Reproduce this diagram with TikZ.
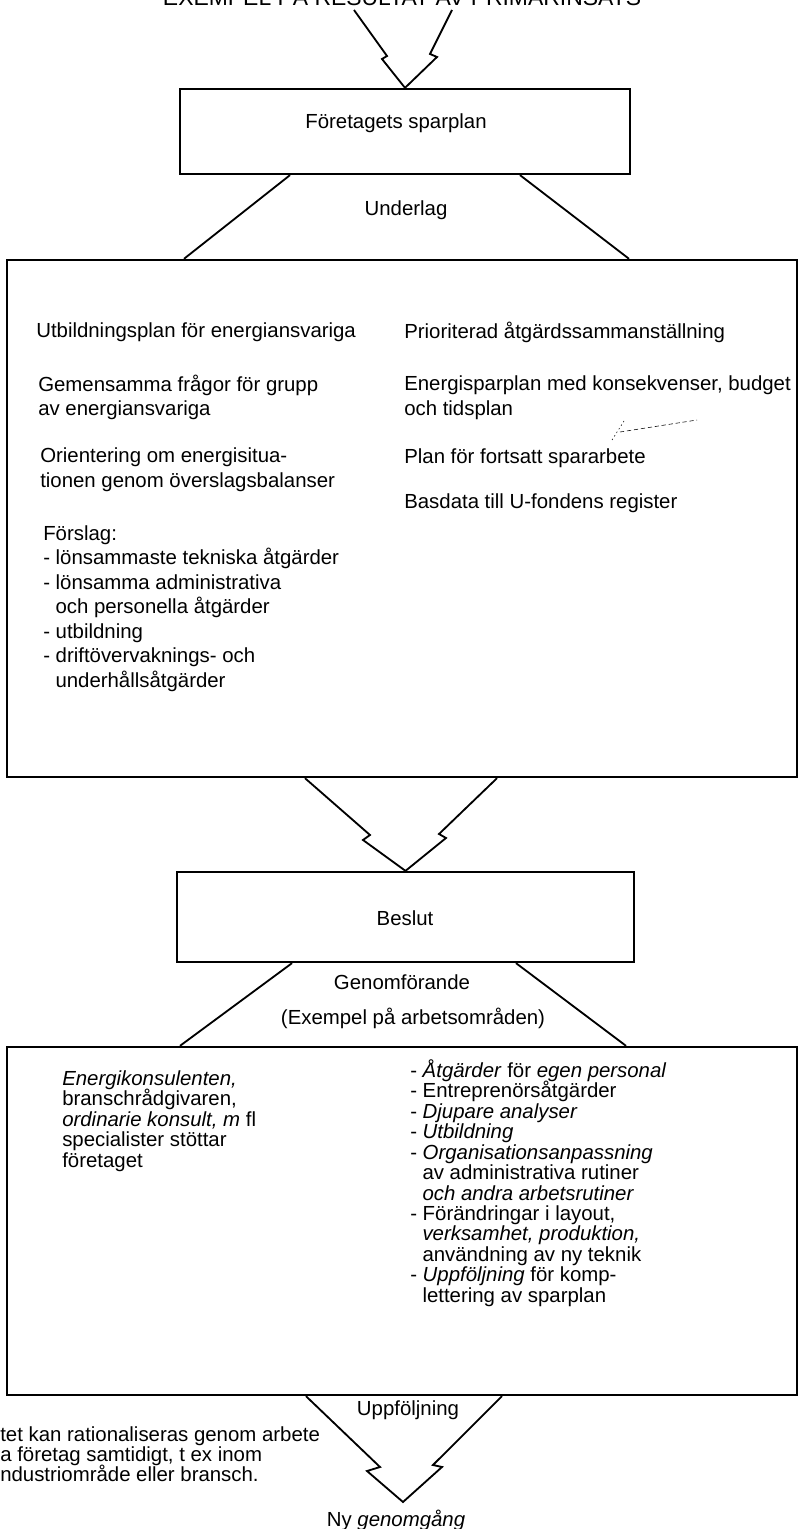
\documentclass[tikz,border=0pt]{standalone}
\usepackage{fontspec}
\setmainfont{Liberation Sans}
\usetikzlibrary{calc}

\newcommand\contind{\hspace*{0.6em}}
\newcommand\tightlines{\lineskiplimit-20pt\relax}

\begin{document}
\begin{tikzpicture}[x=0.025cm,y=-0.025cm,
    box/.style={rectangle,draw,line width=1.6pt,inner sep=0pt},
    conn/.style={line width=1.3pt,line join=miter},
    txt/.style={font=\fontsize{14.5}{17.4}\selectfont,inner sep=0pt,align=left,anchor=west},
    wtxt/.style={font=\fontsize{14.5}{14.55}\selectfont\tightlines,inner sep=0pt,align=left,anchor=west},
    lbl/.style={font=\fontsize{14.5}{17.4}\selectfont,inner sep=0pt}]
    \useasboundingbox (0,0) rectangle (799,1529);
    % heading, cut by the page edge
    \node[font=\fontsize{16.3}{18}\selectfont,anchor=base,inner sep=0pt] (title) at (402,6) {EXEMPEL PÅ RESULTAT AV PRIMÄRINSATS};
    \coordinate (inL) at (354,10);
    \coordinate (inR) at (452,10);
    \node[box,minimum width=11.25cm,minimum height=2.125cm] (plan) at (405,131.5) {};
    \node[lbl] (plantxt) at (396,123) {Företagets sparplan};
    \node[lbl] (underlag) at (406,210) {Underlag};
    \node[box,minimum width=19.75cm,minimum height=12.925cm] (basis) at (402,518.5) {};
    % left column
    \node[txt] (utb) at (36,332) {Utbildningsplan för energiansvariga};
    \node[txt] (gem) at (38,397.5) {Gemensamma frågor för grupp\\av energiansvariga};
    \node[txt] (ori) at (40,469.5) {Orientering om energisitua-\\tionen genom överslagsbalanser};
    \node[txt] (forslag) at (43,608.5) {Förslag:\\- lönsammaste tekniska åtgärder\\- lönsamma administrativa\\\contind och personella åtgärder\\- utbildning\\- driftövervaknings- och\\\contind underhållsåtgärder};
    % right column
    \node[txt] (prio) at (404,332) {Prioriterad åtgärdssammanställning};
    \node[txt] (spar) at (404,397.5) {Energisparplan med konsekvenser, budget\\och tidsplan};
    \node[txt] (fortsatt) at (404,458) {Plan för fortsatt spararbete};
    \node[txt] (basdata) at (404,503) {Basdata till U-fondens register};
    \draw[thin,dash pattern=on 1pt off 2pt] (612,440) -- (624,421);
    \draw[thin,dash pattern=on 3pt off 2pt] (620,432) -- (697,420);
    % decision
    \node[box,minimum width=11.425cm,minimum height=2.25cm] (beslut) at (405.5,917) {};
    \node[lbl] (besluttxt) at (405,918) {Beslut};
    \node[lbl] (genomf) at (402,982) {Genomförande};
    \node[lbl] (exempel) at (413,1018) {(Exempel på arbetsområden)};
    \node[box,minimum width=19.75cm,minimum height=8.7cm] (work) at (402,1221) {};
    \node[wtxt] (stod) at (62,1121) {\textit{Energikonsulenten,}\\branschrådgivaren,\\\textit{ordinarie konsult, m} fl\\specialister stöttar\\företaget};
    \node[wtxt] (omraden) at (410,1183) {- \textit{Åtgärder} för \textit{egen personal}\\- Entreprenörsåtgärder\\- \textit{Djupare analyser}\\- \textit{Utbildning}\\- \textit{Organisationsanpassning}\\\contind av administrativa rutiner\\\contind \textit{och andra arbetsrutiner}\\- Förändringar i layout,\\\contind \textit{verksamhet, produktion,}\\\contind användning av ny teknik\\- \textit{Uppföljning} för komp-\\\contind lettering av sparplan};
    \node[lbl] (uppf) at (408,1410) {Uppföljning};
    \node[wtxt,font=\fontsize{14.5}{14.2}\selectfont\tightlines] (samtidigt) at (0,1454) {tet kan rationaliseras genom arbete\\a företag samtidigt, t ex inom\\ndustriområde eller bransch.};
    \coordinate (nytip) at (403,1502);
    \node[lbl] (ny) at (396,1520) {Ny \textit{genomgång}};
    % connectors
    \draw[conn] (inL) -- (387,56) -- (382,59) -- (plan.north) -- (437,57) -- (430,54) -- (inR);
    \draw[conn] ($(plan.south)+(-115,0)$) -- ($(basis.north)+(-218,0)$);
    \draw[conn] ($(plan.south)+(115,0)$) -- ($(basis.north)+(227,0)$);
    \draw[conn] ($(basis.south)+(-97,0)$) -- (370,835) -- (363,840) -- (beslut.north) -- (446,838) -- (439,834) -- ($(basis.south)+(95,0)$);
    \draw[conn] ($(beslut.south)+(-113.5,0)$) -- ($(work.north)+(-222,0)$);
    \draw[conn] ($(beslut.south)+(110.5,0)$) -- ($(work.north)+(224,0)$);
    \draw[conn] ($(work.south)+(-96,0)$) -- (380,1467) -- (367,1471) -- (nytip) -- (442,1467) -- (433,1465) -- ($(work.south)+(100,0)$);
\end{tikzpicture}
\end{document}
